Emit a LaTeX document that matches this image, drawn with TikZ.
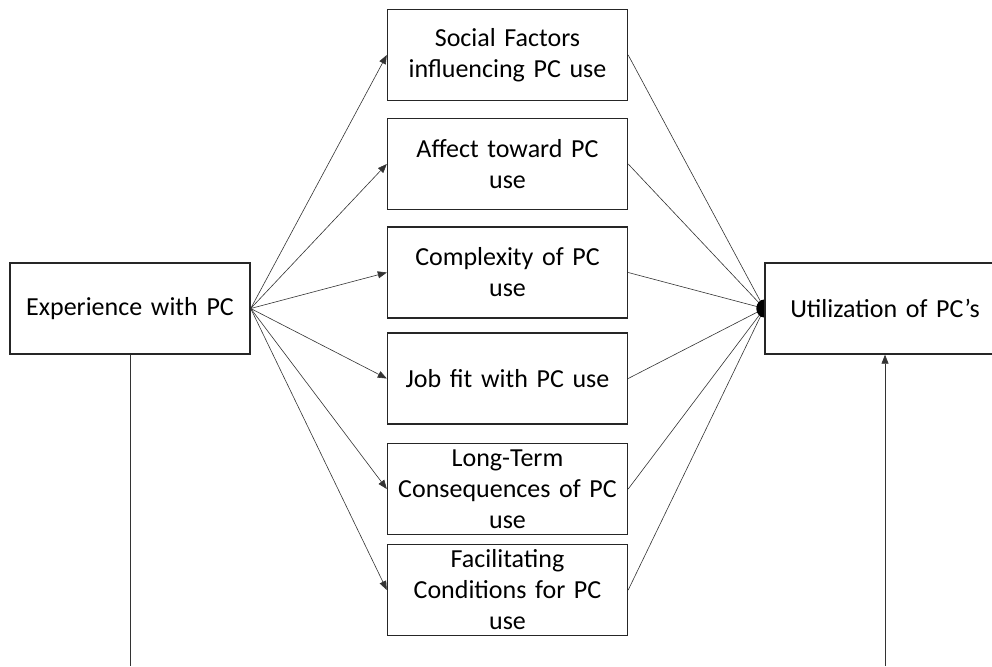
\documentclass[tikz,border=0pt]{standalone}
\usepackage{fontspec}
\setmainfont{Carlito}[WordSpace=0.75]
\usetikzlibrary{arrows.meta,backgrounds}
\begin{document}
\begin{tikzpicture}[x=1pt,y=-1pt,
  box/.style={draw=black!85,line width=1.4pt,fill=white,inner sep=0pt,
    minimum width=240pt,minimum height=91pt,text width=232pt,align=center,
    font=\fontsize{26}{31}\selectfont},
  link/.style={draw=black!80,line width=0.6pt},
  tip/.style={link,-{Triangle[length=9pt,width=7pt]}}]
\useasboundingbox (0,0) rectangle (992,666);
\clip (0,0) rectangle (992,666);
% source and target
\node[box] (exp) at (130,308.5) {Experience with PC};
\node[box] (util) at (885,308.5) {Utilization of PC’s};
% the six determinants
\node[box] (soc) at (507.5,55) {Social Factors\\influencing PC use};
\node[box] (aff) at (507.5,164) {Affect toward PC\\use};
\node[box] (cpx) at (507.5,272.5) {Complexity of PC\\use};
\node[box] (job) at (507.5,378.5) {Job fit with PC use};
\node[box] (ltc) at (507.5,489) {Long-Term\\Consequences of PC\\use};
\node[box] (fac) at (507.5,590) {Facilitating\\Conditions for PC\\use};
\coordinate (lowL) at (exp.south |- 0,666);
\coordinate (lowR) at (util.south |- 0,666);
\begin{scope}[on background layer]
  \foreach \n in {soc,aff,cpx,job,ltc,fac}{
    \draw[tip] (exp.east) -- (\n.west);
    \draw[link] (\n.east) -- (util.west);
  }
  \fill[black] (util.west) ellipse (8pt and 9pt);
  \draw[link] (exp.south) -- (lowL);
  \draw[tip] (lowR) -- (util.south);
\end{scope}
\end{tikzpicture}
\end{document}
